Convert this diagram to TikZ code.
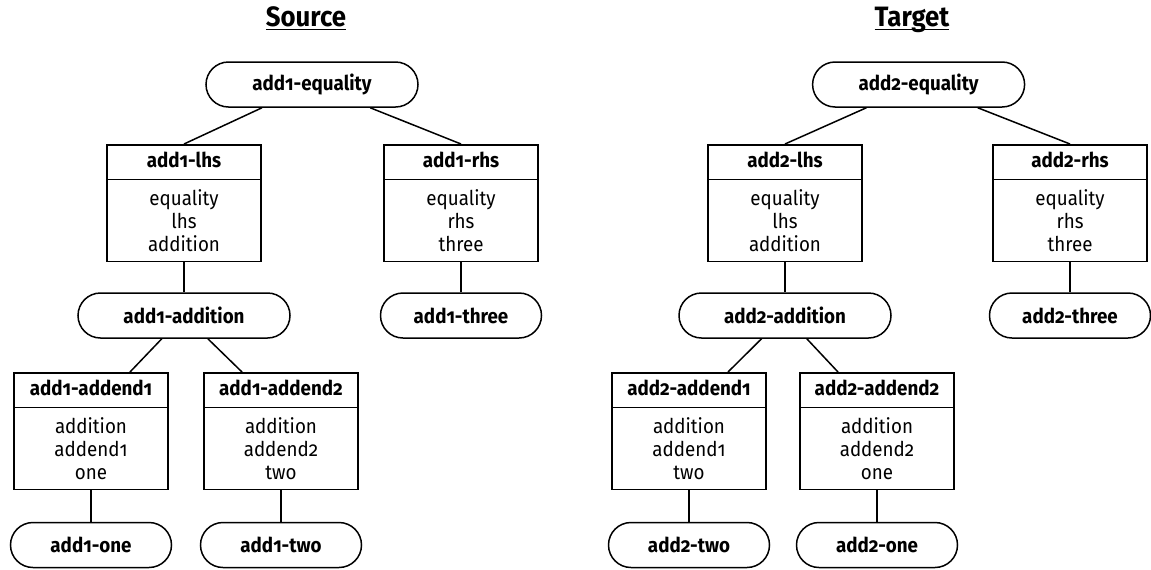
\documentclass[tikz,border=0pt]{standalone}
\usepackage{fontspec}
\setmainfont{Fira Sans}[Numbers=OldStyle, FakeStretch=0.92]
\usetikzlibrary{shapes.multipart}
\newcommand{\boxfont}{\fontsize{10.2}{11.4}\selectfont}
\tikzstyle{frame}=[
	 rectangle split,
	 rectangle split parts=2, draw,
	 inner xsep=3pt, inner ysep=0pt,
	 text width=71pt, text centered,
	 anchor=north, font=\boxfont
    ]
\tikzstyle{pill}=[draw, rounded corners=11.25pt, minimum height=22.5pt, inner sep=0pt, font=\boxfont\bfseries]
\tikzstyle{longpill}=[pill, minimum width=106pt]
\tikzstyle{shortpill}=[pill, minimum width=80.5pt]
\tikzstyle{heading}=[anchor=base, inner sep=0pt, font=\fontsize{14}{16}\selectfont\bfseries]
\newcommand{\head}[1]{\rule[-5.7pt]{0pt}{16.5pt}\textbf{#1}}
\newcommand{\slots}[3]{\rule{0pt}{12.8pt}#1\\#2\\#3\rule[-4.8pt]{0pt}{4.8pt}}
\newcommand{\link}[2]{\draw (#1) -- (#2.north)}
\newcommand{\slant}[3]{\draw (#1) -- ([xshift=#3]#2.north)}

\begin{document}
\begin{tikzpicture}[x=0.5pt,y=-0.5pt,line width=0.75pt]
\useasboundingbox (0,0) rectangle (1151,569);

\node[heading] (src) at (306,26.7) {\underline{\smash{Source}}};
\node[heading] (tgt) at (912,26.7) {\underline{\smash{Target}}};

% source side
\node[longpill] (seq) at (312,84.5) {add1-equality};
\node[frame] (sl) at (184,144) {\head{add1-lhs} \nodepart{two} \slots{equality}{lhs}{addition}};
\node[frame] (sr) at (461,144) {\head{add1-rhs} \nodepart{two} \slots{equality}{rhs}{three}};
\node[longpill] (sad) at (184,315.5) {add1-addition};
\node[shortpill] (sth) at (461,315.5) {add1-three};
\node[frame] (sa1) at (91,372) {\head{add1-addend1} \nodepart{two} \slots{addition}{addend1}{one}};
\node[frame] (sa2) at (281,372) {\head{add1-addend2} \nodepart{two} \slots{addition}{addend2}{two}};
\node[shortpill] (sone) at (91,545) {add1-one};
\node[shortpill] (stwo) at (281,545) {add1-two};

% target side
\node[longpill] (teq) at (918.6,84.5) {add2-equality};
\node[frame] (tl) at (785,144) {\head{add2-lhs} \nodepart{two} \slots{equality}{lhs}{addition}};
\node[frame] (tr) at (1070,144) {\head{add2-rhs} \nodepart{two} \slots{equality}{rhs}{three}};
\node[longpill] (tad) at (785,315.5) {add2-addition};
\node[shortpill] (tth) at (1070,315.5) {add2-three};
\node[frame] (ta1) at (689,372) {\head{add2-addend1} \nodepart{two} \slots{addition}{addend1}{two}};
\node[frame] (ta2) at (877,372) {\head{add2-addend2} \nodepart{two} \slots{addition}{addend2}{one}};
\node[shortpill] (ttwo) at (689,545) {add2-two};
\node[shortpill] (tone) at (877,545) {add2-one};

\link{seq}{sl};
\link{seq}{sr};
\link{sl}{sad};
\link{sr}{sth};
\slant{sad}{sa1}{19.5pt};
\slant{sad}{sa2}{-19.5pt};
\link{sa1}{sone};
\link{sa2}{stwo};

\link{teq}{tl};
\link{teq}{tr};
\link{tl}{tad};
\link{tr}{tth};
\slant{tad}{ta1}{19.5pt};
\slant{tad}{ta2}{-19.5pt};
\link{ta1}{ttwo};
\link{ta2}{tone};

\end{tikzpicture}
\end{document}
